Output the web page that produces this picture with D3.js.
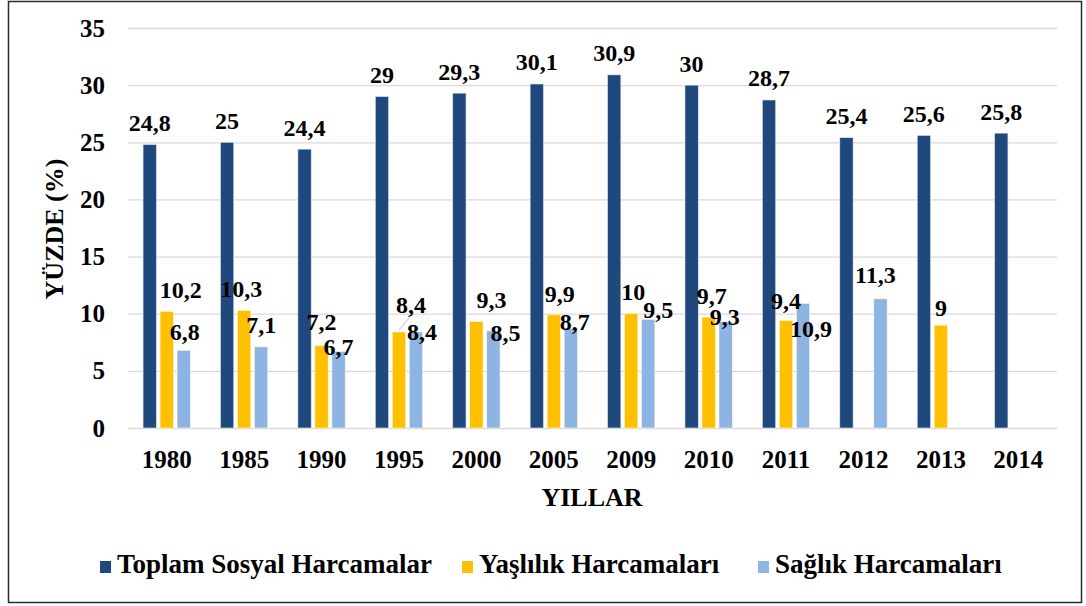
<!DOCTYPE html>
<html>
<head>
<meta charset="utf-8">
<script src="https://cdn.jsdelivr.net/npm/d3@7"></script>
<style>
  html, body { margin: 0; padding: 0; background: #fff; }
  svg { display: block; }
</style>
</head>
<body>
<div id="chart"></div>
<script>
const years = ["1980", "1985", "1990", "1995", "2000", "2005", "2009", "2010", "2011", "2012", "2013", "2014"];
const toplam = [24.8, 25, 24.4, 29, 29.3, 30.1, 30.9, 30, 28.7, 25.4, 25.6, 25.8];
const yaslilik = [10.2, 10.3, 7.2, 8.4, 9.3, 9.9, 10, 9.7, 9.4, null, 9, null];
const saglik = [6.8, 7.1, 6.7, 8.4, 8.5, 8.7, 9.5, 9.3, 10.9, 11.3, null, null];
const yTicks = [0, 5, 10, 15, 20, 25, 30, 35];

const seriesNames = ["Toplam Sosyal Harcamalar", "Yaşlılık Harcamaları", "Sağlık Harcamaları"];
const colors = ["#1F497D", "#FFC000", "#8DB4E2"];

// label nudges (dx, dy from bar top) - excel had these dragged around by hand
const nudgeDark = years.map(() => [0, -22]);
const nudgeGold = [[14, -22], [-3, -22], [0, -24], [12, -27], [15, -22], [6, -21], [2, -22], [3, -22], [0, -20], null, [0, -18], null];
const nudgeLight = [[1, -19], [0, -22], [0, -5], [6, 0], [12, 2], [4, -7], [10, -10], [-1, -5], [8, 25], [-5, -24], null, null];

const fontFam = "'Liberation Serif', 'Times New Roman', Times, serif";

const width = 1086, height = 606;
const margin = { top: 28, right: 29, bottom: 178, left: 128 };

const svg = d3.select("#chart").append("svg")
    .attr("width", width)
    .attr("height", height)
    .style("font-family", fontFam)
    .style("font-weight", "bold");

// frame
svg.append("rect")
    .attr("x", 8.5).attr("y", 1.5)
    .attr("width", 1073).attr("height", 601)
    .attr("fill", "none")
    .attr("stroke", "#2b2b2b")
    .attr("stroke-width", 1.5);

const x0 = d3.scaleBand()
    .domain(years)
    .range([margin.left, width - margin.right])
    .padding(0);

const x1 = d3.scaleBand()
    .domain(d3.range(3))
    .range([-23.65, 23.65])
    .paddingInner(0.218);

const y = d3.scaleLinear()
    .domain([0, 35])
    .range([height - margin.bottom, margin.top]);

// gridlines
svg.append("g")
    .selectAll("line")
    .data(yTicks)
    .join("line")
    .attr("x1", margin.left)
    .attr("x2", width - margin.right)
    .attr("y1", d => y(d) + 0.5)
    .attr("y2", d => y(d) + 0.5)
    .attr("stroke", "#d9d9d9")
    .attr("stroke-width", 1.3);

// y tick labels
const yAxis = svg.append("g")
    .attr("transform", `translate(${margin.left - 23},0)`)
    .call(d3.axisLeft(y).tickValues(yTicks).tickSize(0).tickPadding(0))
    .attr("font-family", null);
yAxis.select(".domain").remove();
yAxis.selectAll("text")
    .style("font-family", fontFam)
    .attr("font-size", 25)
    .attr("fill", "#000");

// x tick labels
const xAxis = svg.append("g")
    .attr("transform", `translate(0,${y(0)})`)
    .call(d3.axisBottom(x0).tickSize(0))
    .attr("font-family", null);
xAxis.select(".domain").remove();
xAxis.selectAll("text")
    .style("font-family", fontFam)
    .attr("font-size", 25)
    .attr("y", 39.5)
    .attr("dy", null)
    .attr("fill", "#000");

// axis titles
svg.append("text")
    .attr("transform", `translate(63,229) rotate(-90)`)
    .attr("text-anchor", "middle")
    .attr("font-size", 26)
    .text("YÜZDE (%)");

svg.append("text")
    .attr("x", 592)
    .attr("y", 506)
    .attr("text-anchor", "middle")
    .attr("font-size", 26)
    .text("YILLAR");

const allSeries = [toplam, yaslilik, saglik];
const nudges = [nudgeDark, nudgeGold, nudgeLight];

const rows = [];
allSeries.forEach((vals, s) => {
    vals.forEach((v, i) => {
        if (v !== null) rows.push({ s, year: years[i], i, v });
    });
});

const barX = d => x0(d.year) + x0.bandwidth() / 2 + x1(d.s);

svg.append("g")
    .selectAll("rect")
    .data(rows)
    .join("rect")
    .attr("x", d => barX(d))
    .attr("y", d => y(d.v))
    .attr("width", x1.bandwidth())
    .attr("height", d => y(0) - y(d.v))
    .attr("fill", d => colors[d.s])
    .attr("stroke", d => d.s === 0 ? "#dfe6ef" : "#fff5d6")
    .attr("stroke-width", 0.6);

// leader line for the dragged 1995 label
const lead = rows.find(d => d.s === 1 && d.year === "1995");
svg.append("line")
    .attr("x1", barX(lead) + x1.bandwidth() / 2)
    .attr("y1", y(lead.v) - 2)
    .attr("x2", barX(lead) + x1.bandwidth() / 2 + 10)
    .attr("y2", y(lead.v) - 14)
    .attr("stroke", "#bfbfbf")
    .attr("stroke-width", 1);

const fmt = v => String(v).replace(".", ",");

svg.append("g")
    .selectAll("text")
    .data(rows)
    .join("text")
    .attr("x", d => barX(d) + x1.bandwidth() / 2 + nudges[d.s][d.i][0])
    .attr("y", d => y(d.v) + nudges[d.s][d.i][1])
    .attr("dy", "0.35em")
    .attr("text-anchor", "middle")
    .attr("font-size", 24)
    .text(d => fmt(d.v));

// legend
const legendX = [100, 462, 758];
const legend = svg.append("g")
    .selectAll("g")
    .data(seriesNames)
    .join("g")
    .attr("transform", (d, i) => `translate(${legendX[i]},573)`);

legend.append("rect")
    .attr("x", 0).attr("y", -12)
    .attr("width", 11).attr("height", 12)
    .attr("fill", (d, i) => colors[i]);

legend.append("text")
    .attr("x", 17)
    .attr("font-size", 27)
    .text(d => d);
</script>
</body>
</html>
